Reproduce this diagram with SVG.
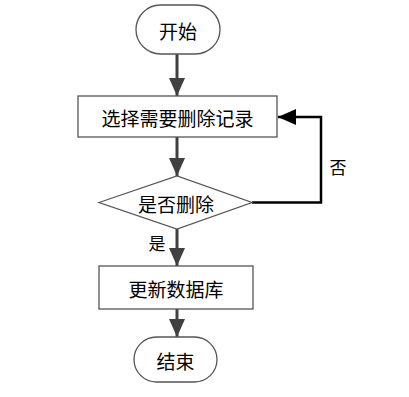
<svg xmlns="http://www.w3.org/2000/svg" width="409" height="397" viewBox="0 0 409 397">
<defs>
<style>
.n{fill:#fff;stroke:#555;stroke-width:1.3}
.t{font-family:"Noto Sans CJK SC","Liberation Sans",sans-serif;font-size:19px;fill:#000;text-anchor:middle;dominant-baseline:central}
.c{fill:none;stroke:#404040;stroke-width:3}
.k{fill:none;stroke:#000;stroke-width:2.5}
</style>
<marker id="a" markerUnits="userSpaceOnUse" markerWidth="20" markerHeight="20" refX="18" refY="8" orient="auto" viewBox="0 0 20 16">
<path d="M0,0 L18,8 L0,16 Z" fill="#404040"/>
</marker>
<marker id="b" markerUnits="userSpaceOnUse" markerWidth="20" markerHeight="20" refX="18" refY="8" orient="auto" viewBox="0 0 20 16">
<path d="M0,0 L18,8 L0,16 Z" fill="#000"/>
</marker>
</defs>
<rect width="409" height="397" fill="#fff"/>
<g id="connectors">
<path class="c" d="M177,54 V96" marker-end="url(#a)"/>
<path class="c" d="M177,137 V176" marker-end="url(#a)"/>
<path class="c" d="M177,229 V266" marker-end="url(#a)"/>
<path class="c" d="M177,309 V337" marker-end="url(#a)"/>
<path class="k" d="M252,202.5 H321 V117 H278" marker-end="url(#b)"/>
<text class="t" x="338" y="166" style="font-size:17px">否</text>
<text class="t" x="157" y="242" style="font-size:17px">是</text>
</g>
<g id="start">
<rect class="n" x="136" y="5" width="84" height="49" rx="24.5"/>
<text class="t" x="178" y="30">开始</text>
</g>
<g id="select">
<rect class="n" x="78" y="96" width="199" height="41"/>
<text class="t" x="177.5" y="117">选择需要删除记录</text>
</g>
<g id="decide">
<polygon class="n" points="99,202.5 177,176 252,202.5 177,229"/>
<text class="t" x="176" y="203">是否删除</text>
</g>
<g id="update">
<rect class="n" x="99" y="266" width="154" height="43"/>
<text class="t" x="176" y="288">更新数据库</text>
</g>
<g id="end">
<rect class="n" x="134" y="337" width="83" height="45" rx="22.5"/>
<text class="t" x="175.5" y="360">结束</text>
</g>
</svg>
